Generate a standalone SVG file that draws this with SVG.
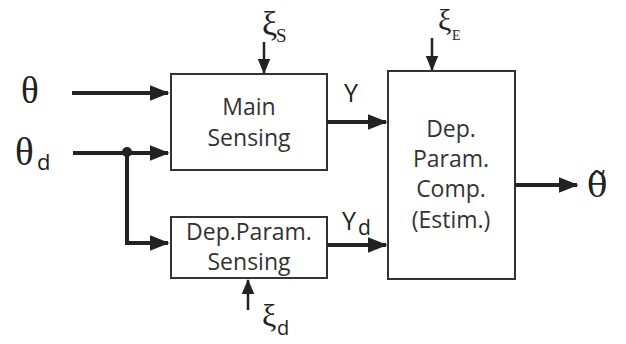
<svg xmlns="http://www.w3.org/2000/svg" width="626" height="344" viewBox="0 0 626 344">
<defs>
<marker id="ah" markerWidth="5" markerHeight="4" refX="4.6" refY="2" orient="auto" markerUnits="strokeWidth">
<path d="M0,0 L5,2 L0,4 Z" fill="#222"/>
</marker>
<marker id="ahs" markerWidth="6" markerHeight="6" refX="5.6" refY="3" orient="auto" markerUnits="strokeWidth">
<path d="M0,0.5 L6,3 L0,5.5 Z" fill="#222"/>
</marker>
<style>
.box{fill:#fff;stroke:#333;stroke-width:2}
.t{font-family:"Open Sans","Noto Sans",sans-serif;font-size:23px;fill:#333;text-anchor:middle}
.g{font-family:"Liberation Serif","DejaVu Serif",serif;fill:#222}
.c{fill:none;stroke:#222;stroke-width:4}
.n{fill:none;stroke:#222;stroke-width:2.5}
.s{font-family:"Open Sans","Noto Sans",sans-serif;fill:#222}
</style>
</defs>
<rect width="626" height="344" fill="#fff"/>
<g id="main-sensing">
<rect class="box" x="171" y="74" width="156" height="96"/>
<text class="t" x="249" y="115">Main</text>
<text class="t" x="249" y="146">Sensing</text>
</g>
<g id="dep-sensing">
<rect class="box" x="171" y="217" width="156" height="61"/>
<text class="t" x="249" y="240">Dep.Param.</text>
<text class="t" x="249" y="270">Sensing</text>
</g>
<g id="estimator">
<rect class="box" x="388" y="71" width="127" height="208"/>
<text class="t" x="451" y="137">Dep.</text>
<text class="t" x="451" y="167">Param.</text>
<text class="t" x="451" y="197">Comp.</text>
<text class="t" x="451" y="228">(Estim.)</text>
</g>
<g id="labels">
<text class="g" x="21" y="103" font-size="37">θ</text>
<text class="g" x="15" y="165" font-size="39">θ</text>
<text class="s" x="37" y="170" font-size="22">d</text>
<text class="g" x="262" y="35" font-size="34">ξ</text>
<text class="g" x="276" y="42" font-size="19">S</text>
<text class="g" x="438" y="30" font-size="30">ξ</text>
<text class="g" x="452" y="40" font-size="14">E</text>
<text class="g" x="262" y="326" font-size="32">ξ</text>
<text class="s" x="277" y="335" font-size="20">d</text>
<text class="s" x="344" y="102" font-size="25">Y</text>
<text class="s" x="342" y="230" font-size="25">Y<tspan font-size="21" dx="2" dy="5">d</tspan></text>
<text x="587" y="197" font-size="34" font-family="'DejaVu Serif',serif" fill="#222">θ̃</text>
</g>
<g id="connectors">
<line class="c" x1="72" y1="93" x2="168" y2="93" marker-end="url(#ah)"/>
<line class="c" x1="73" y1="153" x2="168" y2="153" marker-end="url(#ah)"/>
<polyline class="c" points="127,153 127,243 168,243" marker-end="url(#ah)"/>
<circle cx="127" cy="152" r="5" fill="#222"/>
<line class="n" x1="264" y1="42" x2="264" y2="73" marker-end="url(#ahs)"/>
<line class="n" x1="432" y1="38" x2="432" y2="70" marker-end="url(#ahs)"/>
<line class="n" x1="248" y1="310" x2="248" y2="280" marker-end="url(#ahs)"/>
<line class="c" x1="327" y1="122" x2="386" y2="122" marker-end="url(#ah)"/>
<line class="c" x1="327" y1="245" x2="386" y2="245" marker-end="url(#ah)"/>
<line class="c" x1="515" y1="185" x2="577" y2="185" marker-end="url(#ah)"/>
</g>
</svg>
